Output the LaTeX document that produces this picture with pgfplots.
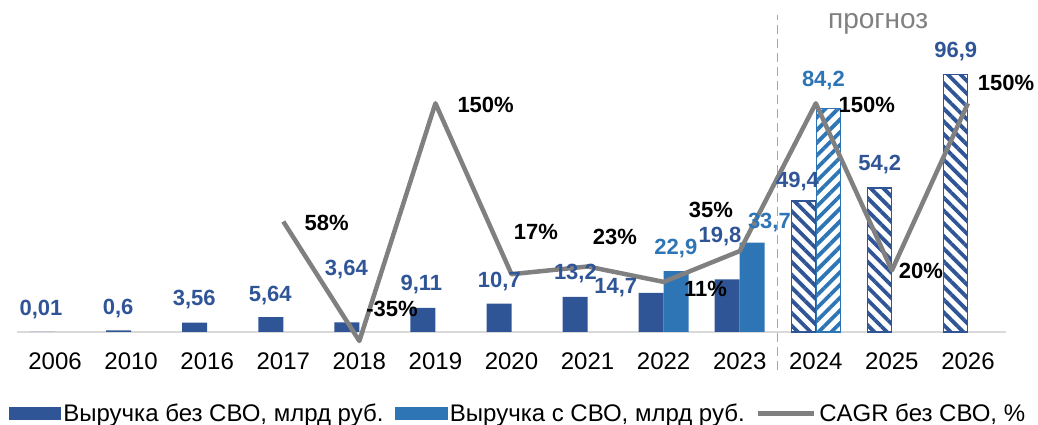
\documentclass[border=0pt]{standalone}
\usepackage{fontspec}
\setmainfont{Liberation Sans}
\usepackage{pgfplots}
\pgfplotsset{compat=1.18}
\usetikzlibrary{patterns.meta}
\definecolor{cDark}{HTML}{2F5597}
\definecolor{cLight}{HTML}{2E75B6}
\definecolor{cLine}{HTML}{808080}
\definecolor{cAxis}{HTML}{D9D9D9}
\definecolor{cDash}{HTML}{A6A6A6}
\newcommand\vlab{\fontsize{22}{24}\selectfont\bfseries}
\begin{document}
\begin{tikzpicture}
\path[use as bounding box] (-17pt,-93pt) rectangle (1021pt,332pt);
\pgfplotsset{base/.style={at={(0,0)}, anchor=south west, scale only axis,
  width=989pt, height=318.6pt, xmin=-0.5, xmax=12.5, clip=false,
  /pgf/number format/assume math mode=true}}
% ---- primary axis: bars
\begin{axis}[base, ymin=0, ymax=120,
  axis x line=bottom, axis y line=none,
  x axis line style={-, draw=cAxis, line width=2pt},
  xtick={0,...,12},
  xticklabels={2006,2010,2016,2017,2018,2019,2020,2021,2022,2023,2024,2025,2026},
  xtick style={draw=none}, major tick length=0pt,
  xticklabel style={font=\fontsize{24}{28}\selectfont, inner sep=0pt, anchor=north, yshift=-21pt},
  ytick=\empty]
\addplot[ybar, bar width=25pt, bar shift=-12.5pt, fill=cDark, draw=none]
  coordinates {(0,0.01)(1,0.6)(2,3.56)(3,5.64)(4,3.64)(5,9.11)(6,10.7)(7,13.2)(8,14.7)(9,19.8)};
\addplot[ybar, bar width=25pt, bar shift=12.5pt, fill=cLight, draw=none]
  coordinates {(8,22.9)(9,33.7)};
\addplot[ybar, bar width=24pt, bar shift=-12.5pt, draw=cDark, line width=1.5pt,
  pattern={Lines[angle=-45,distance=9pt,line width=3.8pt]}, pattern color=cDark]
  coordinates {(10,49.4)(11,54.2)(12,96.9)};
\addplot[ybar, bar width=24pt, bar shift=12.5pt, draw=cLight, line width=1.5pt,
  pattern={Lines[angle=45,distance=9pt,line width=3.8pt]}, pattern color=cLight]
  coordinates {(10,84.2)};
\addplot[draw=cDash, line width=1.3pt, dash pattern=on 9pt off 5pt]
  coordinates {(9.5,-14.5)(9.5,119.5)};
\end{axis}
% ---- secondary axis: CAGR line
\begin{axis}[base, ymin=-28, ymax=220, hide axis,
  legend columns=3, legend cell align=left,
  legend style={at={(axis description cs:-0.0081,-0.256)}, anchor=west,
    draw=none, fill=none, inner sep=0pt, outer sep=0pt,
    font=\fontsize{24}{28}\selectfont,
    nodes={inner xsep=3pt, inner ysep=0pt},
    /tikz/every even column/.append style={column sep=8pt}}]
\addlegendimage{legend image code/.code={\fill[cDark] (0pt,-6pt) rectangle (51pt,6pt);}}
\addlegendentry{Выручка без СВО, млрд руб.}
\addlegendimage{legend image code/.code={\fill[cLight] (0pt,-6pt) rectangle (52pt,6pt);}}
\addlegendentry{Выручка с СВО, млрд руб.}
\addplot[cLine, line width=4.5pt, line join=round,
  legend image code/.code={\draw[cLine, line width=4.5pt] (0pt,0pt) -- (56pt,0pt);}]
  coordinates {(3,58)(4,-35)(5,150)(6,17)(7,23)(8,11)(9,35)(10,150)(11,20)(12,150)};
\addlegendentry{CAGR без СВО, \%}
\begin{scope}[every node/.style={font=\vlab, text=black, inner sep=0pt}]
\node at (axis cs:3.57,56.9) {58\%};
\node at (axis cs:4.43,-10.1) {-35\%};
\node at (axis cs:5.66,148.8) {150\%};
\node at (axis cs:6.32,49.8) {17\%};
\node at (axis cs:7.36,45.9) {23\%};
\node at (axis cs:8.62,67.0) {35\%};
\node at (axis cs:8.55,5.5) {11\%};
\node at (axis cs:10.67,148.8) {150\%};
\node at (axis cs:11.38,19.5) {20\%};
\node at (axis cs:12.5,165.9) {150\%};
\end{scope}
\end{axis}
% ---- labels on primary scale
\begin{axis}[base, ymin=0, ymax=120, hide axis]
\begin{scope}[every node/.style={font=\vlab, text=cDark, inner sep=0pt}]
\node at (axis cs:-0.184,8.3) {0,01};
\node at (axis cs:0.829,9.0) {0,6};
\node at (axis cs:1.829,12.1) {3,56};
\node at (axis cs:2.829,13.9) {5,64};
\node at (axis cs:3.829,23.4) {3,64};
\node at (axis cs:4.816,17.7) {9,11};
\node at (axis cs:5.84,19.2) {10,7};
\node at (axis cs:6.84,22.2) {13,2};
\node at (axis cs:7.37,16.6) {14,7};
\node at (axis cs:8.74,35.8) {19,8};
\node at (axis cs:9.76,56.5) {49,4};
\node at (axis cs:10.84,62.9) {54,2};
\node at (axis cs:11.84,105.5) {96,9};
\end{scope}
\begin{scope}[every node/.style={font=\vlab, text=cLight, inner sep=0pt}]
\node at (axis cs:8.16,31.6) {22,9};
\node at (axis cs:9.39,41.1) {33,7};
\node at (axis cs:10.1,94.9) {84,2};
\end{scope}
\node[anchor=base, inner sep=0pt, text=cLine, font=\fontsize{28}{32}\selectfont] at (axis cs:10.82,114.4) {прогноз};
\end{axis}
\end{tikzpicture}
\end{document}
